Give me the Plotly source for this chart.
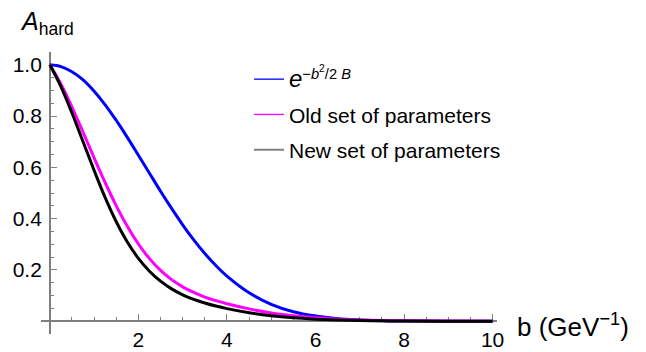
import plotly.graph_objects as go

# ---- data ----
b_vals = [0, 0.25, 0.5, 0.75, 1.0, 1.25, 1.5, 1.75, 2.0, 2.25, 2.5, 2.75, 3.0,
          3.25, 3.5, 3.75, 4.0, 4.5, 5.0, 5.5, 6.0, 6.5, 7.0, 7.5, 8.0, 9.0, 10.0]
gauss_vals = [1.0, 0.993, 0.973, 0.941, 0.897, 0.844, 0.783, 0.717, 0.647, 0.577,
              0.507, 0.440, 0.376, 0.317, 0.264, 0.217, 0.176, 0.111, 0.066, 0.037,
              0.020, 0.010, 0.005, 0.002, 0.001, 0.0002, 0.0]
old_vals = [1.0, 0.925, 0.835, 0.737, 0.637, 0.540, 0.450, 0.370, 0.301, 0.244,
            0.198, 0.162, 0.134, 0.112, 0.094, 0.080, 0.068, 0.048, 0.032, 0.021,
            0.013, 0.008, 0.0045, 0.0025, 0.0013, 0.0003, 0.0]
new_vals = [1.0, 0.915, 0.812, 0.700, 0.588, 0.482, 0.388, 0.309, 0.245, 0.195,
            0.156, 0.126, 0.103, 0.085, 0.071, 0.059, 0.049, 0.033, 0.021, 0.013,
            0.008, 0.0045, 0.0025, 0.0012, 0.0006, 0.0001, 0.0]

series_names = ["<span style='font-size:24px'><i>e</i></span>"
                "<sup>\u2212<i>b</i><sup>2</sup>/2 <i>B</i></sup>",
                "Old set of parameters", "New set of parameters"]
series_colors = ["#0000FF", "#FF00FF", "#000000"]
legend_colors = ["#0000FF", "#FF00FF", "#808080"]

x_tick_vals = [2, 4, 6, 8, 10]
x_tick_text = ["2", "4", "6", "8", "10"]
y_tick_vals = [0.2, 0.4, 0.6, 0.8, 1.0]
y_tick_text = ["0.2", "0.4", "0.6", "0.8", "1.0"]

FONT = "Liberation Sans, Arial, sans-serif"
AXIS_GRAY = "#7f7f7f"
FS = 21

fig = go.Figure()
for vals, col in zip([gauss_vals, old_vals, new_vals], series_colors):
    fig.add_trace(go.Scatter(x=b_vals, y=vals, mode="lines",
                             line=dict(color=col, width=3, shape="spline", smoothing=1),
                             showlegend=False, hoverinfo="skip"))
# thin legend entries
for i, (name, col) in enumerate(zip(series_names, legend_colors)):
    fig.add_trace(go.Scatter(x=[None], y=[None], mode="lines", name=name,
                             legendgroup=f"g{i}",
                             line=dict(color=col, width=1.3 if i < 2 else 2)))

x_range = [-0.2, 10.1]
y_range = [-0.05, 1.05]
xpos = (0 - y_range[0]) / (y_range[1] - y_range[0])
ypos = (0 - x_range[0]) / (x_range[1] - x_range[0])

fig.update_layout(
    width=646, height=352,
    margin=dict(l=41, r=149, t=52, b=18, autoexpand=False),
    paper_bgcolor="white", plot_bgcolor="white",
    font=dict(family=FONT, size=FS, color="black"),
    xaxis=dict(range=x_range, showgrid=False, zeroline=False, automargin=False,
               anchor="free", position=xpos, showline=True,
               linecolor=AXIS_GRAY, linewidth=1.6,
               tickmode="array", tickvals=x_tick_vals, ticktext=x_tick_text,
               ticks="inside", ticklen=6, tickwidth=1.2, tickcolor=AXIS_GRAY,
               minor=dict(tickmode="linear", tick0=0, dtick=0.5, ticks="inside",
                          ticklen=3.5, tickwidth=1, tickcolor=AXIS_GRAY),
               tickfont=dict(size=FS, family=FONT, color="black"),
               layer="below traces"),
    yaxis=dict(range=y_range, showgrid=False, zeroline=False, automargin=False,
               anchor="free", position=ypos, showline=True,
               linecolor=AXIS_GRAY, linewidth=1.6,
               tickmode="array", tickvals=y_tick_vals, ticktext=y_tick_text,
               ticks="inside", ticklen=6, tickwidth=1.2, tickcolor=AXIS_GRAY,
               ticklabelstandoff=3,
               minor=dict(tickmode="linear", tick0=0, dtick=0.05, ticks="inside",
                          ticklen=3.5, tickwidth=1, tickcolor=AXIS_GRAY),
               tickfont=dict(size=FS, family=FONT, color="black"),
               layer="below traces"),
    legend=dict(x=(249 - 41) / 456, xanchor="left", y=1 - (59 - 52) / 282, yanchor="top",
                bgcolor="rgba(0,0,0,0)", font=dict(size=FS, family=FONT),
                tracegroupgap=5, traceorder="grouped"),
    annotations=[
        dict(text="<i>A</i><sub>hard</sub>", xref="paper", yref="paper",
             x=(18 - 41) / 456, y=1 + (52 - 23) / 282, xanchor="left", yanchor="middle",
             showarrow=False, font=dict(size=25, family=FONT, color="black")),
        dict(text="b (GeV<sup>\u22121</sup>)", xref="paper", yref="y",
             x=(515 - 41) / 456, y=0, xanchor="left", yanchor="middle", yshift=-4,
             showarrow=False, font=dict(size=26, family=FONT, color="black")),
    ],
)

fig.write_html("out.html")
